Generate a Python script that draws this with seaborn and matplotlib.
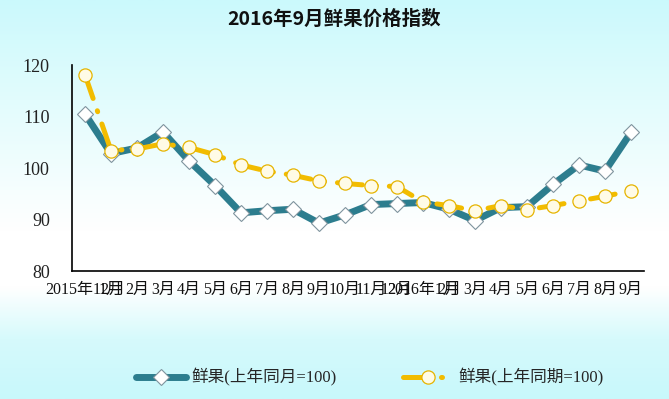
import numpy as np
import pandas as pd
import matplotlib
matplotlib.use("Agg")
import matplotlib.pyplot as plt
from matplotlib.colors import LinearSegmentedColormap
import seaborn as sns

# 数据
months = ["2015年12月", "1月", "2月", "3月", "4月", "5月", "6月", "7月", "8月", "9月",
          "10月", "11月", "12月", "2016年1月", "2月", "3月", "4月", "5月", "6月",
          "7月", "8月", "9月"]
tongyue = [110.5, 102.8, 103.9, 107.0, 101.4, 96.6, 91.3, 91.7, 92.0, 89.3, 90.9,
           92.9, 93.1, 93.3, 92.0, 89.8, 92.3, 92.5, 96.8, 100.6, 99.4, 106.9]
tongqi = [118.1, 103.4, 103.7, 104.7, 104.0, 102.6, 100.6, 99.4, 98.6, 97.5, 97.0,
          96.6, 96.4, 93.4, 92.7, 91.7, 92.7, 91.9, 92.7, 93.6, 94.5, 95.6]
yticks = [80, 90, 100, 110, 120]

label1 = "鲜果(上年同月=100)"
label2 = "鲜果(上年同期=100)"

df = pd.DataFrame({"idx": range(len(months)), "同月": tongyue, "同期": tongqi})

sns.set_theme(style="white")
plt.rcParams["font.family"] = ["Noto Sans CJK SC", "DejaVu Sans"]
serif = ["Liberation Serif", "Noto Sans CJK SC"]

fig = plt.figure(figsize=(6.69, 3.99), dpi=100)

# 背景渐变
bg = fig.add_axes([0, 0, 1, 1], zorder=-10)
cmap = LinearSegmentedColormap.from_list(
    "bg", [(0, "#cbf9fc"), (0.25, "#e2fcfd"), (0.58, "#ffffff"),
           (0.72, "#ffffff"), (0.85, "#d6fafc"), (1, "#c8f8fb")])
grad = np.linspace(0, 1, 256).reshape(-1, 1)
bg.imshow(grad, aspect="auto", cmap=cmap, extent=[0, 1, 1, 0])
bg.set_axis_off()

ax = fig.add_axes([0.1076, 0.3208, 0.855, 0.5162])
ax.set_facecolor("none")

teal = "#2c7d8e"
gold = "#f2bc00"

sns.lineplot(data=df, x="idx", y="同月", ax=ax, color=teal, linewidth=5,
             marker="D", markersize=8, markerfacecolor="white",
             markeredgecolor="#7f949e", markeredgewidth=0.8, label=label1, zorder=3)
sns.lineplot(data=df, x="idx", y="同期", ax=ax, color=gold, linewidth=3.6,
             marker="o", markersize=9.5, markerfacecolor="#fffbe6",
             markeredgecolor="#e6b400", markeredgewidth=0.9, label=label2, zorder=4)

l1, l2 = ax.get_lines()[:2]
l1.set_solid_capstyle("round")
l1.set_solid_joinstyle("round")
l2.set_dashes([5, 2.6, 0.2, 2.6])
l2.set_dash_capstyle("round")

ax.set_xlim(-0.5, len(months) - 0.5)
ax.set_ylim(80, 120)
ax.set_yticks(yticks)
ax.set_yticklabels([str(v) for v in yticks], fontsize=13, color="#222222", family=serif)
ax.set_xticks(range(len(months)))
ax.set_xticklabels(months, fontsize=11.5, color="#111111", family=serif)
ax.set_xticks(np.arange(-0.5, len(months)), minor=True)
ax.tick_params(axis="x", which="major", length=0, pad=8)
ax.tick_params(axis="x", which="minor", direction="in", length=5, width=1, color="black")
ax.tick_params(axis="y", direction="in", length=5, width=1, color="black", pad=16)
ax.set_xlabel("")
ax.set_ylabel("")
for s in ["top", "right"]:
    ax.spines[s].set_visible(False)
for s in ["left", "bottom"]:
    ax.spines[s].set_color("black")
    ax.spines[s].set_linewidth(1.2)
ax.grid(False)

handles, labels = ax.get_legend_handles_labels()
ax.legend(handles, labels, loc="center", bbox_to_anchor=(0.553, 0.053),
          bbox_transform=fig.transFigure, ncol=2, frameon=False,
          prop={"family": serif, "size": 12},
          handlelength=3.0, columnspacing=4.0, handletextpad=0.3)

fig.suptitle("2016年9月鲜果价格指数", x=0.5, y=0.975, fontsize=14,
             fontweight="bold", color="#111111")

fig.savefig("out.png", dpi=100)
